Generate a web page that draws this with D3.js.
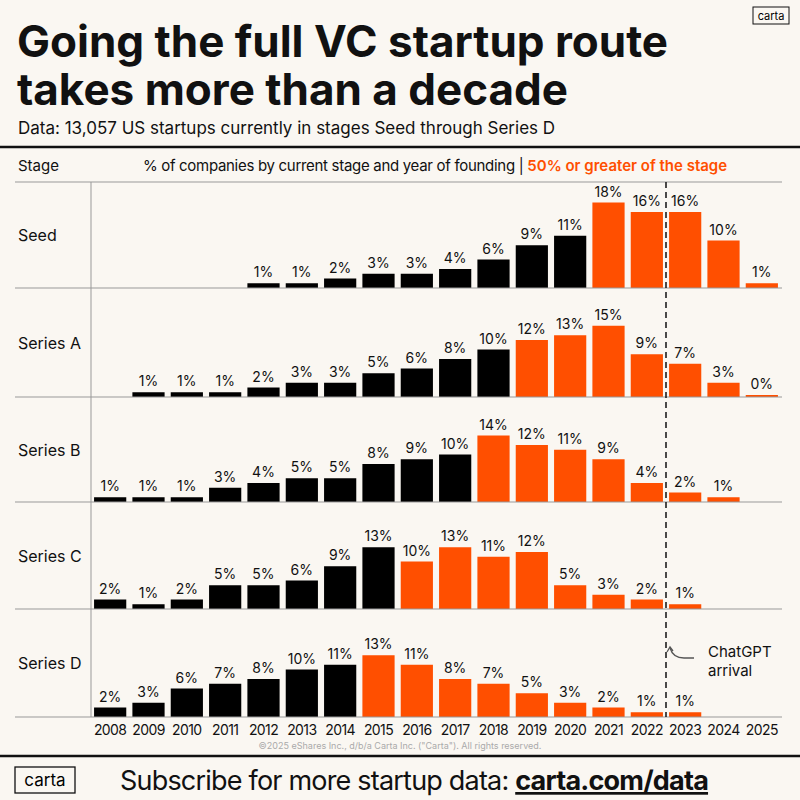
<!DOCTYPE html>
<html><head><meta charset="utf-8">
<script src="https://cdn.jsdelivr.net/npm/d3@7"></script>
<style>body{margin:0;background:#faf7f2;} svg{display:block;font-family:Inter,"Noto Sans",sans-serif;}</style>
</head><body>
<svg id="chart" width="800" height="800"></svg>
<script>
const years = d3.range(2008, 2026);
const stages = ["Seed", "Series A", "Series B", "Series C", "Series D"];
// null = no bar
const seedValues = [null,null,null,null,1,1,2,3,3,4,6,9,11,18,16,16,10,1];
const seriesAValues = [null,1,1,1,2,3,3,5,6,8,10,12,13,15,9,7,3,0];
const seriesBValues = [1,1,1,3,4,5,5,8,9,10,14,12,11,9,4,2,1,null];
const seriesCValues = [2,1,2,5,5,6,9,13,10,13,11,12,5,3,2,1,null,null];
const seriesDValues = [2,3,6,7,8,10,11,13,11,8,7,5,3,2,1,1,null,null];
const stageValues = [seedValues, seriesAValues, seriesBValues, seriesCValues, seriesDValues];
// first founding year holding 50%+ of the stage
const orangeFrom = [2021, 2019, 2018, 2016, 2015];

const orange = "#ff4f00", ink = "#111";
const svg = d3.select("#chart");
svg.append("rect").attr("width", 800).attr("height", 800).attr("fill", "#faf7f2");

// title block
svg.append("text").attr("x", 17).attr("y", 57).attr("font-size", 44).attr("font-weight", 700)
  .attr("fill", ink).attr("letter-spacing", 0).text("Going the full VC startup route");
svg.append("text").attr("x", 17).attr("y", 105).attr("font-size", 44).attr("font-weight", 700)
  .attr("fill", ink).attr("letter-spacing", 0).text("takes more than a decade");
svg.append("text").attr("x", 18).attr("y", 134).attr("font-size", 17).attr("fill", ink)
  .text("Data: 13,057 US startups currently in stages Seed through Series D");
const logo = svg.append("g").attr("transform", "translate(753,7)");
logo.append("rect").attr("width", 36).attr("height", 17).attr("fill", "none").attr("stroke", ink);
logo.append("text").attr("x", 18).attr("y", 12.5).attr("text-anchor", "middle").attr("font-size", 11).text("carta");

svg.append("line").attr("x1", 0).attr("x2", 800).attr("y1", 147).attr("y2", 147).attr("stroke", ink).attr("stroke-width", 2.5);

// header
svg.append("text").attr("x", 18).attr("y", 171).attr("font-size", 15).attr("fill", ink).text("Stage");
const hdr = svg.append("text").attr("x", 435).attr("y", 171).attr("font-size", 15).attr("text-anchor", "middle");
hdr.append("tspan").attr("fill", ink).attr("letter-spacing", -0.3).text("% of companies by current stage and year of founding | ");
hdr.append("tspan").attr("fill", orange).attr("font-weight", 600).text("50% or greater of the stage");
svg.append("line").attr("x1", 15).attr("x2", 782).attr("y1", 182).attr("y2", 182).attr("stroke", "#999");

const x = d3.scaleBand().domain(years).range([91, 781]).paddingInner(0.16).paddingOuter(0.08);
const baselines = [288, 397, 502, 609, 717];
const pxPerPct = 4.75;
const h = d3.scaleLinear().domain([0, 1]).range([0, pxPerPct]);

stageValues.forEach((vals, i) => {
  const base = baselines[i];
  const top = i === 0 ? 182 : baselines[i - 1];
  svg.append("text").attr("x", 18).attr("y", (top + base) / 2 + 6).attr("font-size", 16).attr("fill", ink).text(stages[i]);
  const data = years.map((yr, j) => ({ yr, v: vals[j] })).filter(d => d.v !== null);
  const g = svg.append("g");
  g.selectAll("rect").data(data).join("rect")
    .attr("x", d => x(d.yr)).attr("width", x.bandwidth())
    .attr("y", d => base - Math.max(2, h(d.v))).attr("height", d => Math.max(2, h(d.v)))
    .attr("fill", d => d.yr >= orangeFrom[i] ? orange : "#000");
  g.selectAll("text").data(data).join("text")
    .attr("x", d => x(d.yr) + x.bandwidth() / 2).attr("y", d => base - Math.max(2, h(d.v)) - 6)
    .attr("text-anchor", "middle").attr("font-size", 14).attr("fill", ink).text(d => d.v + "%");
  svg.append("line").attr("x1", 15).attr("x2", 782).attr("y1", base).attr("y2", base).attr("stroke", "#999");
});
svg.append("line").attr("x1", 91).attr("x2", 91).attr("y1", 182).attr("y2", 717).attr("stroke", "#999");

// year axis
const axis = svg.append("g").attr("transform", "translate(0,717)")
  .call(d3.axisBottom(x).tickSize(0).tickPadding(8));
axis.select(".domain").remove();
axis.selectAll("text").attr("font-size", 14).attr("fill", ink).attr("font-family", "Inter,sans-serif").attr("letter-spacing", -0.6);

// ChatGPT marker
const gx = (x(2022) + x.bandwidth() + x(2023)) / 2;
svg.append("line").attr("x1", gx).attr("x2", gx).attr("y1", 182).attr("y2", 717)
  .attr("stroke", ink).attr("stroke-width", 1.5).attr("stroke-dasharray", "6,4");
svg.append("path").attr("d", `M${gx + 4},648 q3,10 14,10 L${gx + 28},658`).attr("fill", "none").attr("stroke", "#555").attr("stroke-width", 1.3);
svg.append("path").attr("d", `M${gx + 1},652 l3,-5 l3,4`).attr("fill", "none").attr("stroke", "#555").attr("stroke-width", 1.3);
svg.append("text").attr("x", gx + 42).attr("y", 657).attr("font-size", 15).attr("fill", ink).text("ChatGPT");
svg.append("text").attr("x", gx + 42).attr("y", 676).attr("font-size", 15).attr("fill", ink).text("arrival");

svg.append("text").attr("x", 400).attr("y", 749).attr("text-anchor", "middle").attr("font-size", 9).attr("fill", "#aaa")
  .text("©2025 eShares Inc., d/b/a Carta Inc. (\"Carta\"). All rights reserved.");
svg.append("line").attr("x1", 0).attr("x2", 800).attr("y1", 756).attr("y2", 756).attr("stroke", ink).attr("stroke-width", 2.5);

// footer
const flogo = svg.append("g").attr("transform", "translate(15,767)");
flogo.append("rect").attr("width", 60).attr("height", 26).attr("fill", "none").attr("stroke", ink).attr("stroke-width", 1.3);
flogo.append("text").attr("x", 30).attr("y", 19).attr("text-anchor", "middle").attr("font-size", 17).text("carta");
const ft = svg.append("text").attr("x", 120).attr("y", 790).attr("font-size", 27).attr("fill", ink).attr("letter-spacing", -0.8);
ft.append("tspan").text("Subscribe for more startup data: ");
ft.append("tspan").attr("font-weight", 700).attr("text-decoration", "underline").text("carta.com/data");
</script>
</body></html>
